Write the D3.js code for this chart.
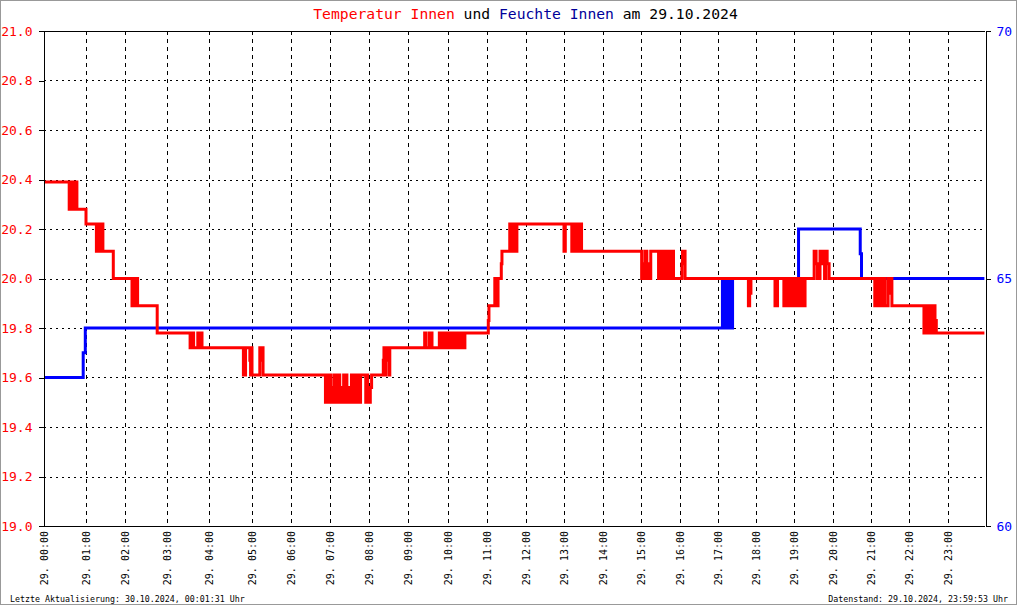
<!DOCTYPE html>
<html>
<head>
<meta charset="utf-8">
<script src="https://cdn.jsdelivr.net/npm/d3@7"></script>
<style>
body { margin: 0; background: #fff; }
svg { display: block; }
</style>
</head>
<body>
<svg id="chart" width="1020" height="606"></svg>
<script>
// Data
var day = "29.";
var hourLabels = ["00:00","01:00","02:00","03:00","04:00","05:00","06:00","07:00","08:00","09:00","10:00","11:00",
                  "12:00","13:00","14:00","15:00","16:00","17:00","18:00","19:00","20:00","21:00","22:00","23:00"];
// number of logged samples in each hour (x axis runs over sample index)
var samplesPerHour = [42,39,42,42,43,39,39,39,39,40,39,39,38,39,38,39,38,38,38,39,38,38,39,37];

var tempTicks = [19.0,19.2,19.4,19.6,19.8,20.0,20.2,20.4,20.6,20.8,21.0];
var humTicks = [60,65,70];

var tempSteps = [
    ["00:00",20.39],
    ["00:36",20.28],["00:39",20.39],["00:42",20.28],["00:43",20.39],["00:44",20.28],["00:45",20.39],["00:47",20.28],
    ["01:00",20.22],
    ["01:16",20.11],["01:18",20.22],["01:20",20.11],["01:22",20.22],["01:24",20.11],["01:25",20.22],["01:26",20.11],
    ["01:42",20.00],
    ["02:10",19.89],["02:12",20.00],["02:14",19.89],["02:16",20.00],["02:18",19.89],
    ["02:46",19.78],
    ["03:33",19.72],["03:35",19.78],["03:36",19.72],["03:37",19.78],["03:38",19.72],["03:44",19.78],["03:45",19.72],
    ["03:47",19.78],["03:48",19.72],["03:49",19.78],["03:50",19.72],
    ["04:48",19.61],["04:49",19.72],["04:50",19.61],["04:51",19.72],["04:57",19.67],["04:58",19.61],["04:59",19.72],
    ["05:00",19.61],["05:12",19.72],["05:14",19.67],["05:16",19.72],["05:17",19.61],
    ["06:53",19.50],["06:55",19.61],["06:57",19.50],["06:58",19.61],["07:01",19.50],["07:03",19.56],["07:04",19.50],
    ["07:06",19.61],["07:07",19.50],["07:10",19.56],["07:11",19.61],["07:12",19.50],["07:14",19.61],["07:15",19.50],
    ["07:18",19.56],["07:19",19.50],["07:21",19.61],["07:22",19.50],["07:25",19.61],["07:26",19.50],["07:29",19.56],
    ["07:30",19.50],["07:33",19.61],["07:34",19.50],["07:37",19.61],["07:38",19.50],["07:41",19.61],["07:42",19.50],
    ["07:45",19.61],["07:46",19.50],["07:47",19.61],["07:55",19.50],["07:57",19.61],["07:58",19.50],["08:02",19.56],
    ["08:04",19.61],
    ["08:22",19.67],["08:23",19.72],["08:25",19.61],["08:26",19.72],["08:28",19.67],["08:30",19.72],["08:31",19.61],
    ["08:32",19.72],
    ["09:25",19.78],["09:27",19.72],["09:32",19.78],["09:34",19.72],["09:35",19.78],["09:36",19.72],["09:47",19.78],
    ["09:50",19.72],["09:54",19.78],["09:56",19.72],["09:57",19.78],["09:58",19.72],["10:00",19.78],["10:02",19.72],
    ["10:04",19.78],["10:05",19.72],["10:07",19.78],["10:09",19.72],["10:10",19.78],["10:12",19.72],["10:14",19.78],
    ["10:15",19.72],["10:17",19.78],["10:18",19.72],["10:20",19.78],["10:21",19.72],["10:23",19.78],["10:24",19.72],
    ["10:26",19.78],
    ["11:02",19.83],["11:03",19.89],["11:12",20.00],["11:13",19.89],["11:14",20.00],["11:15",19.89],["11:17",20.00],
    ["11:22",20.06],["11:23",20.11],
    ["11:35",20.22],["11:36",20.11],["11:38",20.22],["11:39",20.11],["11:41",20.22],["11:42",20.11],["11:43",20.22],
    ["11:44",20.11],["11:46",20.22],
    ["13:00",20.11],["13:02",20.22],
    ["13:12",20.11],["13:13",20.22],["13:15",20.11],["13:16",20.22],["13:19",20.11],["13:20",20.22],["13:23",20.11],
    ["13:24",20.22],["13:27",20.11],
    ["15:01",20.00],["15:02",20.06],["15:03",20.00],["15:06",20.11],["15:09",20.00],["15:11",20.06],["15:12",20.00],
    ["15:15",20.11],
    ["15:27",20.00],["15:28",20.11],["15:30",20.00],["15:31",20.11],["15:33",20.00],["15:35",20.11],["15:36",20.00],
    ["15:38",20.11],["15:39",20.00],["15:41",20.11],["15:42",20.00],["15:44",20.11],["15:45",20.00],["15:47",20.11],
    ["15:48",20.00],["15:49",20.11],["15:50",20.00],
    ["16:03",20.06],["16:04",20.11],["16:08",20.00],
    ["17:48",19.89],["17:50",19.94],["17:52",20.00],
    ["18:30",19.89],["18:34",20.00],
    ["18:44",19.89],["18:45",20.00],["18:46",19.89],["18:48",20.00],["18:50",19.89],["18:52",20.00],["18:53",19.89],
    ["18:54",20.00],["18:57",19.89],["18:59",20.00],["19:00",19.89],["19:02",20.00],["19:03",19.89],["19:04",20.00],
    ["19:08",19.89],["19:10",20.00],["19:12",19.89],["19:14",20.00],["19:15",19.89],["19:17",20.00],
    ["19:31",20.11],["19:34",20.06],["19:36",20.00],["19:40",20.11],["19:43",20.06],["19:44",20.11],["19:47",20.00],
    ["19:49",20.11],["19:51",20.06],["19:54",20.00],
    ["21:06",19.89],["21:08",20.00],["21:09",19.89],["21:11",20.00],["21:13",19.89],["21:17",20.00],["21:19",19.89],
    ["21:20",20.00],["21:22",19.89],["21:27",20.00],["21:28",19.94],["21:31",20.00],["21:33",19.89],
    ["22:23",19.78],["22:25",19.89],["22:26",19.78],["22:28",19.89],["22:29",19.78],["22:32",19.89],["22:33",19.78],
    ["22:35",19.89],["22:36",19.78],["22:38",19.89],["22:40",19.83],["22:42",19.78],
    ["23:59",19.78]
];

var humSteps = [
    ["00:00",63],["00:56",63.5],["00:59",64],
    ["17:07",65],["17:08",64],["17:09",65],["17:10",64],["17:11",65],["17:12",64],["17:13",65],["17:14",64],
    ["17:15",65],["17:16",64],["17:17",65],["17:18",64],["17:19",65],["17:20",64],["17:21",65],["17:22",64],
    ["17:23",65],
    ["19:07",66],["20:43",65.5],["20:45",65],
    ["23:59",65]
];

// Layout
var margin_left = 44, margin_right = 985, margin_top = 31, margin_bottom = 526;
var font = "DejaVu Sans Mono, monospace";

var svg = d3.select("#chart");

svg.append("rect")
    .attr("x", 0.5).attr("y", 0.5)
    .attr("width", 1016).attr("height", 604)
    .attr("fill", "#fff")
    .attr("stroke", "#999");

// Scales
var cum = [0];
samplesPerHour.forEach(function(n, i){ cum.push(cum[i] + n); });
var hourToSample = d3.scaleLinear().domain(d3.range(25)).range(cum);
var x = d3.scaleLinear().domain([0, cum[24]]).range([margin_left, margin_right]);
var yT = d3.scaleLinear().domain([19, 21]).range([margin_bottom, margin_top]);
var yH = d3.scaleLinear().domain([60, 70]).range([margin_bottom, margin_top]);

function xPos(t){
    var p = t.split(":");
    return x(hourToSample(+p[0] + (+p[1]) / 60));
}

// Grid
var grid = svg.append("g").attr("shape-rendering", "crispEdges");
grid.selectAll("line.h")
    .data(tempTicks.slice(1, -1))
    .enter().append("line")
    .attr("class", "h")
    .attr("x1", margin_left).attr("x2", margin_right)
    .attr("y1", function(d){ return Math.round(yT(d)) + 0.5; })
    .attr("y2", function(d){ return Math.round(yT(d)) + 0.5; })
    .attr("stroke", "#000")
    .attr("stroke-dasharray", "2,4");
grid.selectAll("line.v")
    .data(d3.range(1, 24))
    .enter().append("line")
    .attr("class", "v")
    .attr("x1", function(d){ return Math.round(x(hourToSample(d))) + 0.5; })
    .attr("x2", function(d){ return Math.round(x(hourToSample(d))) + 0.5; })
    .attr("y1", margin_top).attr("y2", margin_bottom)
    .attr("stroke", "#000")
    .attr("stroke-dasharray", "4,4");

// Lines
var stepLine = function(yScale){
    return d3.line()
        .x(function(d){ return xPos(d[0]); })
        .y(function(d){ return yScale(d[1]); })
        .curve(d3.curveStepAfter);
};

svg.append("path")
    .datum(humSteps)
    .attr("d", stepLine(yH))
    .attr("fill", "none")
    .attr("stroke", "#0000ff")
    .attr("stroke-width", 3);

svg.append("path")
    .datum(tempSteps)
    .attr("d", stepLine(yT))
    .attr("fill", "none")
    .attr("stroke", "#ff0000")
    .attr("stroke-width", 3);

// Axes
var leftAxis = svg.append("g")
    .attr("transform", "translate(" + (margin_left - 0.5) + ",0)")
    .attr("shape-rendering", "crispEdges")
    .call(d3.axisLeft(yT).tickValues(tempTicks).tickSize(5).tickSizeOuter(0).tickPadding(6).tickFormat(d3.format(".1f")));
leftAxis.selectAll("text").attr("fill", "#ff0000").attr("font-size", "13px").attr("font-family", font);
leftAxis.selectAll("line, path").attr("stroke", "#000");

var rightAxis = svg.append("g")
    .attr("transform", "translate(" + (margin_right + 0.5) + ",0)")
    .attr("shape-rendering", "crispEdges")
    .call(d3.axisRight(yH).tickValues(humTicks).tickSize(5).tickSizeOuter(0).tickPadding(6));
rightAxis.selectAll("text").attr("fill", "#0000ff").attr("font-size", "13px").attr("font-family", font);
rightAxis.selectAll("line, path").attr("stroke", "#000");

var frame = svg.append("g").attr("shape-rendering", "crispEdges");
frame.append("line")
    .attr("x1", margin_left).attr("x2", margin_right)
    .attr("y1", margin_top + 0.5).attr("y2", margin_top + 0.5)
    .attr("stroke", "#000");
frame.append("line")
    .attr("x1", margin_left).attr("x2", margin_right)
    .attr("y1", margin_bottom + 0.5).attr("y2", margin_bottom + 0.5)
    .attr("stroke", "#000");

// X labels
svg.append("g").selectAll("text")
    .data(hourLabels)
    .enter().append("text")
    .text(function(d){ return day + " " + d; })
    .attr("transform", function(d, i){
        return "translate(" + x(hourToSample(i)) + "," + (margin_bottom + 5) + ") rotate(-90)";
    })
    .attr("dy", "0.35em")
    .attr("text-anchor", "end")
    .attr("font-size", "10px")
    .attr("font-family", font)
    .attr("fill", "#000");

// Title
var title = svg.append("text")
    .attr("x", 525.5).attr("y", 18.5)
    .attr("text-anchor", "middle")
    .attr("font-size", "14.7px")
    .attr("font-family", font)
    .attr("xml:space", "preserve");
title.append("tspan").text("Temperatur Innen").attr("fill", "#ff0000");
title.append("tspan").text(" und ").attr("fill", "#000");
title.append("tspan").text("Feuchte Innen").attr("fill", "#000099");
title.append("tspan").text(" am 29.10.2024").attr("fill", "#000");

// Footer
svg.append("text")
    .text("Letzte Aktualisierung: 30.10.2024, 00:01:31 Uhr")
    .attr("x", 10).attr("y", 602)
    .attr("font-size", "8.3px")
    .attr("font-family", font)
    .attr("fill", "#000");
svg.append("text")
    .text("Datenstand: 29.10.2024, 23:59:53 Uhr")
    .attr("x", 1008).attr("y", 602)
    .attr("text-anchor", "end")
    .attr("font-size", "8.3px")
    .attr("font-family", font)
    .attr("fill", "#000");
</script>
</body>
</html>
